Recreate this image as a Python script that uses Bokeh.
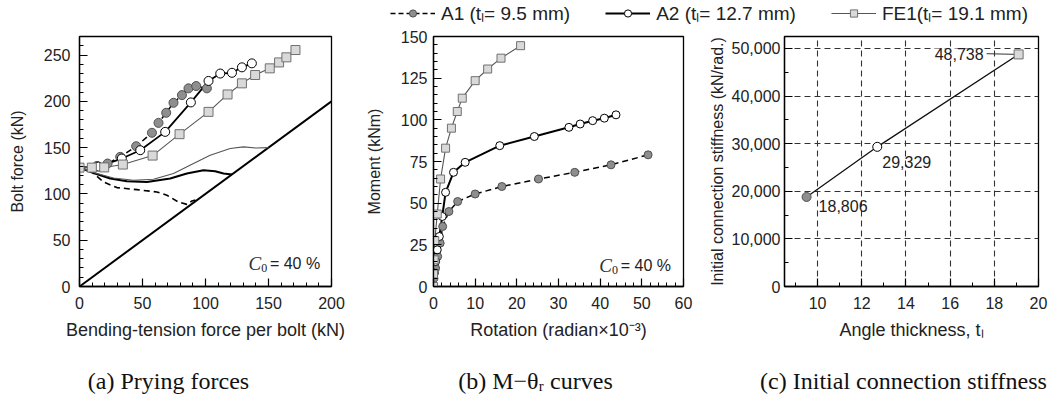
from bokeh.plotting import figure
from bokeh.layouts import column, row
from bokeh.models import (Legend, LegendItem, Label, FixedTicker,
                          NumeralTickFormatter, ColumnDataSource)
from bokeh.embed import file_html
from bokeh.resources import INLINE

# ---------------- data ----------------
# (a) Prying forces: bolt force vs bending-tension force per bolt (kN)
a_A1_x = [0, 13.8, 22.3, 32.3, 45.0, 57.5, 62.7, 68.8, 74.6, 81.3, 86.5, 92.6, 101.1]
a_A1_y = [128.4, 130.2, 132.8, 140.0, 151.5, 166.0, 176.7, 187.6, 198.4, 206.7, 214.0, 216.5, 214.0]
a_A2_x = [0, 15.0, 33.6, 48.2, 68.0, 88.4, 102.4, 111.7, 121.0, 128.9, 136.8]
a_A2_y = [128.4, 129.5, 138.2, 147.2, 167.0, 198.8, 222.0, 230.0, 230.8, 236.7, 241.0]
a_FE1_x = [0, 9.8, 19.6, 34.4, 58.0, 79.4, 102.4, 117.5, 128.9, 139.4, 151.0, 158.4, 164.2, 171.4]
a_FE1_y = [128.4, 128.4, 128.6, 131.7, 141.4, 164.5, 188.6, 207.4, 219.4, 228.4, 235.6, 242.0, 247.5, 255.4]
a_A1_pry_x = [0, 9.8, 19.0, 29.7, 45.5, 61.4, 69.4, 78.6, 85.2, 89.2, 92.0]
a_A1_pry_y = [128.4, 123.7, 112.9, 106.8, 104.6, 102.1, 98.5, 91.2, 88.7, 92.3, 93.5]
a_A2_pry_x = [0, 11.1, 24.4, 37.6, 53.5, 72.0, 85.2, 98.4, 107.7, 114.3, 121.0]
a_A2_pry_y = [128.4, 122.6, 116.6, 113.6, 112.9, 116.6, 122.0, 125.5, 124.5, 122.0, 121.0]
a_FE1_pry_x = [0, 13.8, 27.0, 42.9, 58.7, 74.6, 90.5, 103.7, 119.6, 130.2, 140.0, 150.0]
a_FE1_pry_y = [128.4, 122.0, 117.2, 114.7, 115.8, 122.0, 132.8, 141.8, 149.0, 150.8, 149.5, 150.0]
a_ref_x = [0, 200]
a_ref_y = [0, 200]
a_init_value = 128.4

# (b) M - theta_r curves: moment (kNm) vs rotation (radian x 10^-3)
b_A1_x = [0, 0.1, 0.5, 1.0, 1.6, 2.2, 3.7, 5.8, 10.0, 16.4, 25.2, 33.9, 42.6, 51.5]
b_A1_y = [0, 5, 11, 18, 26, 36, 45, 51, 55.5, 60, 64.5, 68.5, 73, 79]
b_A2_x = [0, 0.2, 0.5, 0.9, 1.4, 2.1, 2.9, 4.8, 7.6, 15.9, 24.2, 32.5, 35.2, 38.2, 41.0, 43.8]
b_A2_y = [0, 8, 15, 22, 30, 42, 56.5, 68.5, 74.5, 84.5, 90, 95.5, 97.5, 99.5, 101, 103]
b_FE1_x = [0, 0.0, 0.15, 0.3, 0.9, 1.7, 2.9, 4.3, 5.7, 6.9, 10.0, 13.0, 16.2, 20.9]
b_FE1_y = [0, 7.5, 16, 27.5, 43.5, 64.5, 83, 95, 105, 113, 123.5, 130.5, 137, 144.5]

# (c) Initial connection stiffness vs angle thickness
c_t = [9.5, 12.7, 19.1]
c_k = [18806, 29329, 48738]
c_labels = ["18,806", "29,329", "48,738"]

legend_labels = ["A1 (tₗ= 9.5 mm)", "A2 (tₗ= 12.7 mm)", "FE1(tₗ= 19.1 mm)"]
captions = ["(a) Prying forces", "(b) M−θᵣ curves", "(c) Initial connection stiffness"]
c0_text = "= 40 %"

# ---------------- styles ----------------
SANS = "Liberation Sans"
SERIF = "Liberation Serif"
GRAY_FILL = "#8e8e8e"
GRAY_LINE = "#505050"
SQ_FILL = "#d9d9d9"
SQ_LINE = "#707070"
FE_LINE = "#555555"
TXT = "#222222"
W = 1056
LEG_H = 26
CAP_H = 40
ROW_H = 404 - LEG_H - CAP_H


def style_axes(p, ylab_standoff, ylab_lab_standoff):
    p.outline_line_color = "black"
    p.outline_line_width = 1.3
    p.grid.visible = False
    for ax in (p.xaxis[0], p.yaxis[0]):
        ax.axis_line_width = 1.3
        ax.major_tick_in = 8
        ax.major_tick_out = 0
        ax.minor_tick_in = 4
        ax.minor_tick_out = 0
        ax.major_tick_line_width = 1.2
        ax.minor_tick_line_width = 1.0
        ax.major_label_text_font = SANS
        ax.major_label_text_font_size = "16px"
        ax.major_label_text_color = TXT
        ax.axis_label_text_font = SANS
        ax.axis_label_text_font_style = "normal"
        ax.axis_label_text_color = TXT
    p.xaxis[0].axis_label_text_font_size = "18px"
    p.yaxis[0].axis_label_text_font_size = "16px"
    p.xaxis[0].major_label_standoff = 10
    p.xaxis[0].axis_label_standoff = 8
    p.yaxis[0].major_label_standoff = ylab_standoff
    p.yaxis[0].axis_label_standoff = ylab_lab_standoff


def add_c0(p, x, y):
    p.add_layout(Label(x=x, y=y, text=c0_text, text_align="right", text_baseline="middle",
                       text_font=SANS, text_font_size="16px", text_color=TXT))
    p.add_layout(Label(x=x, y=y, x_offset=-53, y_offset=-4, text="0", text_align="right",
                       text_baseline="middle", text_font=SERIF, text_font_size="12px",
                       text_color=TXT))
    p.add_layout(Label(x=x, y=y, x_offset=-59, y_offset=0, text="C", text_align="right",
                       text_baseline="middle", text_font=SERIF, text_font_size="19px",
                       text_font_style="italic", text_color="#333333"))


common = dict(height=ROW_H, toolbar_location=None, output_backend="svg", min_border_top=10,
              min_border_bottom=ROW_H - 10 - 250, background_fill_color="white",
              border_fill_color="white")

# ---------------- legend strip ----------------
lf = figure(width=W, height=LEG_H, x_range=(0, 1), y_range=(0, 1),
            x_axis_location=None, y_axis_location=None, toolbar_location=None,
            output_backend="svg", min_border=0, outline_line_color=None)
lf.grid.visible = False
# helper renderers (kept outside the visible range) that only supply legend glyphs
off = ColumnDataSource(data=dict(x=[-10], y=[-10]))
l1 = lf.line("x", "y", source=off, line_color="black", line_width=1.5, line_dash="5 3")
m1 = lf.scatter("x", "y", source=off, marker="circle", size=8, fill_color=GRAY_FILL,
                line_color=GRAY_LINE)
l2 = lf.line("x", "y", source=off, line_color="black", line_width=2)
m2 = lf.scatter("x", "y", source=off, marker="circle", size=8, fill_color="white",
                line_color="black")
l3 = lf.line("x", "y", source=off, line_color=FE_LINE, line_width=1.2)
m3 = lf.scatter("x", "y", source=off, marker="square", size=8, fill_color=SQ_FILL,
                line_color=SQ_LINE)
leg = Legend(items=[LegendItem(label=legend_labels[0], renderers=[l1, m1]),
                    LegendItem(label=legend_labels[1], renderers=[l2, m2]),
                    LegendItem(label=legend_labels[2], renderers=[l3, m3])],
             orientation="horizontal", location=(390, 0), border_line_color=None,
             background_fill_alpha=0, padding=0, margin=0, spacing=35,
             glyph_width=45, glyph_height=18, label_height=18, label_standoff=6,
             label_text_font=SANS, label_text_font_size="19px", label_text_color=TXT)
lf.add_layout(leg)

# ---------------- panel (a) ----------------
pa = figure(width=360, x_range=(0, 200), y_range=(0, 270),
            min_border_left=79, min_border_right=29, **common)
pa.line(a_ref_x, a_ref_y, line_color="black", line_width=2)
pa.line(a_A1_pry_x, a_A1_pry_y, line_color="black", line_width=1.6, line_dash="6 4")
pa.line(a_A2_pry_x, a_A2_pry_y, line_color="black", line_width=2)
pa.line(a_FE1_pry_x, a_FE1_pry_y, line_color=FE_LINE, line_width=1.1)
pa.line(a_A1_x, a_A1_y, line_color="black", line_width=1.5, line_dash="6 4")
pa.line(a_A2_x, a_A2_y, line_color="black", line_width=1.8)
pa.line(a_FE1_x, a_FE1_y, line_color=FE_LINE, line_width=1.1)
pa.scatter(a_A1_x[1:], a_A1_y[1:], marker="circle", size=9, fill_color=GRAY_FILL,
           line_color=GRAY_LINE)
pa.scatter(a_A2_x[1:], a_A2_y[1:], marker="circle", size=9, fill_color="white",
           line_color="black")
pa.scatter(a_FE1_x, a_FE1_y, marker="square", size=9, fill_color=SQ_FILL,
           line_color=SQ_LINE)
pa.xaxis.ticker = FixedTicker(ticks=[0, 50, 100, 150, 200],
                              minor_ticks=list(range(0, 201, 10)))
pa.yaxis.ticker = FixedTicker(ticks=[0, 50, 100, 150, 200, 250],
                              minor_ticks=list(range(0, 271, 10)))
pa.xaxis.axis_label = "Bending-tension force per bolt (kN)"
pa.yaxis.axis_label = "Bolt force (kN)"
style_axes(pa, 9, 15)
pa.add_layout(Label(x=0, y=a_init_value, x_offset=-4, text=str(a_init_value),
                    text_align="right", text_baseline="middle", text_font=SANS,
                    text_font_size="12px", text_color="#333333"))
add_c0(pa, 191, 24.8)

# ---------------- panel (b) ----------------
pb = figure(width=340, x_range=(0, 60), y_range=(0, 150),
            min_border_left=73, min_border_right=17, **common)
pb.line(b_A1_x, b_A1_y, line_color="black", line_width=1.5, line_dash="6 4")
pb.line(b_A2_x, b_A2_y, line_color="black", line_width=2)
pb.line(b_FE1_x, b_FE1_y, line_color=FE_LINE, line_width=1.1)
pb.scatter(b_A1_x, b_A1_y, marker="circle", size=8, fill_color=GRAY_FILL,
           line_color=GRAY_LINE)
pb.scatter(b_A2_x, b_A2_y, marker="circle", size=8, fill_color="white",
           line_color="black")
pb.scatter(b_FE1_x, b_FE1_y, marker="square", size=8, fill_color=SQ_FILL,
           line_color=SQ_LINE)
pb.xaxis.ticker = FixedTicker(ticks=list(range(0, 61, 10)),
                              minor_ticks=list(range(0, 61, 2)))
pb.yaxis.ticker = FixedTicker(ticks=list(range(0, 151, 25)),
                              minor_ticks=list(range(0, 151, 5)))
pb.xaxis.axis_label = "Rotation (radian×10⁻³)"
pb.yaxis.axis_label = "Moment (kNm)"
style_axes(pb, 6, 15)
add_c0(pb, 57.0, 12.6)

# ---------------- panel (c) ----------------
pc = figure(width=356, x_range=(8.5, 20), y_range=(0, 52500),
            min_border_left=84, min_border_right=18, **common)
style_axes(pc, 4, 3)
pc.grid.visible = True
for g in (pc.xgrid[0], pc.ygrid[0]):
    g.grid_line_color = "#333333"
    g.grid_line_dash = "6 4"
    g.grid_line_width = 1.1
pc.line(c_t, c_k, line_color="#111111", line_width=1.3)
pc.segment(x0=[c_t[2] - 1.45], y0=[c_k[2] + 150], x1=[c_t[2]], y1=[c_k[2]],
           line_color="#333333", line_width=1)
pc.scatter(c_t[:1], c_k[:1], marker="circle", size=9, fill_color=GRAY_FILL,
           line_color=GRAY_LINE)
pc.scatter(c_t[1:2], c_k[1:2], marker="circle", size=9, fill_color="white",
           line_color="black")
pc.scatter(c_t[2:], c_k[2:], marker="square", size=9, fill_color=SQ_FILL,
           line_color=SQ_LINE)
pc.xaxis.ticker = FixedTicker(ticks=[10, 12, 14, 16, 18, 20],
                              minor_ticks=[9, 11, 13, 15, 17, 19])
pc.yaxis.ticker = FixedTicker(ticks=list(range(0, 50001, 10000)),
                              minor_ticks=list(range(0, 52501, 5000)))
pc.yaxis.formatter = NumeralTickFormatter(format="0,0")
pc.xaxis.axis_label = "Angle thickness, tₗ"
pc.yaxis.axis_label = "Initial connection stiffness (kN/rad.)"
offsets = [(12, -9, "left"), (5, -15, "left"), (-35, 0, "right")]
for (t, k, lab, (dx, dy, al)) in zip(c_t, c_k, c_labels, offsets):
    pc.add_layout(Label(x=t, y=k, x_offset=dx, y_offset=dy, text=lab, text_align=al,
                        text_baseline="middle", text_font=SANS, text_font_size="16px",
                        text_color=TXT,
                        background_fill_color="white" if al == "right" else None))

# ---------------- caption strip ----------------
cf = figure(width=W, height=CAP_H, x_range=(0, W), y_range=(0, CAP_H),
            x_axis_location=None, y_axis_location=None, toolbar_location=None,
            output_backend="svg", min_border=0, outline_line_color=None)
cf.grid.visible = False
cap_centers = [168, 535, 903]   # horizontal centre of each caption, in page pixels
for cx, cap in zip(cap_centers, captions):
    cf.add_layout(Label(x=cx, y=CAP_H - 16, text=cap, text_align="center",
                        text_baseline="middle", text_font=SERIF, text_font_size="24px",
                        text_color="#111111"))

layout = column(lf, row(pa, pb, pc), cf)
open("out.html", "w").write(file_html(layout, INLINE))
